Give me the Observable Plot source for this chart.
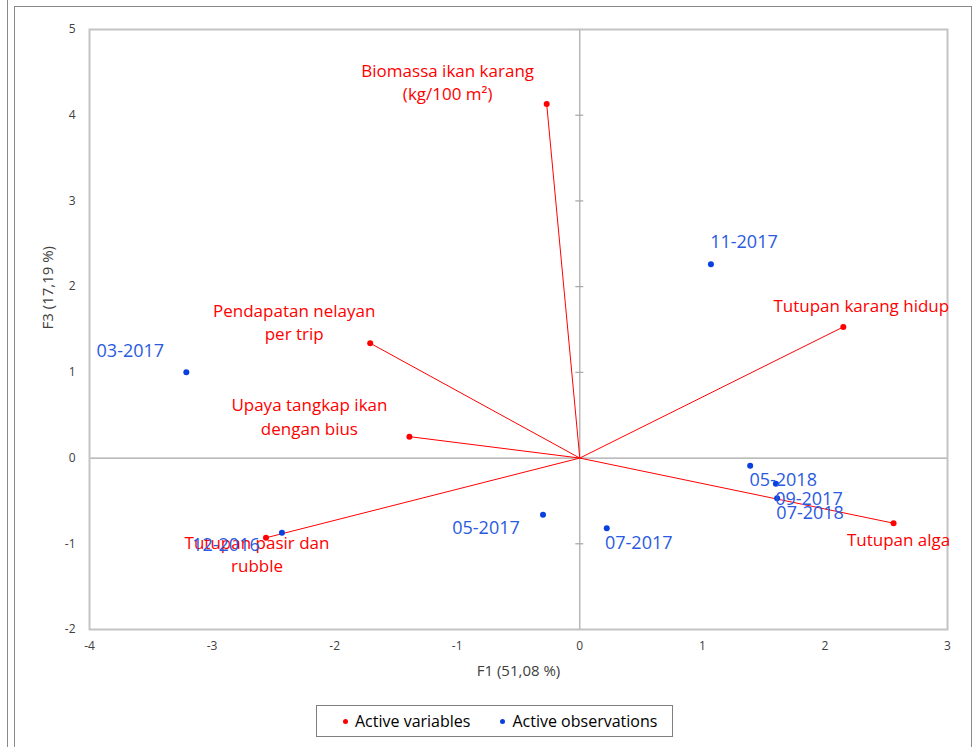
<!DOCTYPE html>
<html>
<head>
<meta charset="utf-8">
<script src="https://cdn.jsdelivr.net/npm/d3@7"></script>
<script src="https://cdn.jsdelivr.net/npm/@observablehq/plot@0.6"></script>
<style>
  html, body { margin: 0; padding: 0; background: #fff; }
  #wrap { position: relative; width: 974px; height: 747px; overflow: hidden; font-family: "Open Sans", Lato, sans-serif; }
  #chart { position: absolute; left: 0; top: 0; }
  .vline { position: absolute; top: 0; width: 0; height: 747px; border-left: 1px solid #8a8a8a; }
  #box { position: absolute; left: 14px; top: 6px; width: 958px; height: 760px; border: 1px solid #8a8a8a; box-sizing: border-box; }
  #legend { position: absolute; left: 316px; top: 705px; width: 357px; height: 32px; border: 1px solid #7f7f7f; box-sizing: border-box;
            display: flex; align-items: center; justify-content: flex-start; padding-left: 26px; gap: 30px; font-size: 16px; color: #000; }
  #legend span.item { display: flex; align-items: center; gap: 7px; white-space: nowrap; }
  #legend i { display: inline-block; width: 5px; height: 5px; border-radius: 50%; }
</style>
</head>
<body>
<div id="wrap">
  <div class="vline" style="left:7px"></div>
  <div id="box"></div>
  <div id="chart"></div>
  <div id="legend"></div>
</div>
<script>
// ---- data ----
const variableNames = ["Biomassa ikan karang\n(kg/100 m²)", "Tutupan karang hidup", "Pendapatan nelayan\nper trip", "Upaya tangkap ikan\ndengan bius", "Tutupan pasir dan\nrubble", "Tutupan alga"];
const variableF1 = [-0.27, 2.15, -1.71, -1.39, -2.56, 2.56];
const variableF3 = [4.13, 1.53, 1.34, 0.25, -0.93, -0.76];

const observationNames = ["11-2017", "03-2017", "05-2018", "09-2017", "07-2018", "05-2017", "07-2017", "12-2016"];
const observationF1 = [1.07, -3.21, 1.39, 1.60, 1.61, -0.30, 0.22, -2.43];
const observationF3 = [2.26, 1.00, -0.09, -0.30, -0.47, -0.66, -0.82, -0.87];

const xTicks = [-4, -3, -2, -1, 0, 1, 2, 3];
const yTicks = [-2, -1, 0, 1, 2, 3, 4, 5];
const xTitle = "F1 (51,08 %)";
const yTitle = "F3 (17,19 %)";
const legendLabels = ["Active variables", "Active observations"];

// ---- layout (label offsets in pixels) ----
const varOffsets = [[-99, -23], [18, -22], [-76, -22], [-100, -21], [-9, 15], [5, 15]];
const obsOffsets = [[33, -22], [-56, -21], [33, 14], [33, 15], [33, 15], [-57, 14], [32, 15], [-56, 13]];

const RED = "#ff0000";
const BLUE_DOT = "#0a3fe0";
const BLUE_TXT = "#2a5ae0";
const FONT = "'Open Sans', Lato, sans-serif";

const variables = variableNames.map((name, i) => ({name, x: variableF1[i], y: variableF3[i]}));
const observations = observationNames.map((name, i) => ({name, x: observationF1[i], y: observationF3[i]}));

const labelMarks = [];
variables.forEach((d, i) => {
  labelMarks.push(Plot.text([d], {x: "x", y: "y", text: "name", dx: varOffsets[i][0], dy: varOffsets[i][1],
    fill: RED, fontSize: 17, lineHeight: 1.38, textAnchor: "middle", lineAnchor: "middle", fontFamily: FONT}));
});
observations.forEach((d, i) => {
  labelMarks.push(Plot.text([d], {x: "x", y: "y", text: "name", dx: obsOffsets[i][0], dy: obsOffsets[i][1],
    fill: BLUE_TXT, fontSize: 18, textAnchor: "middle", lineAnchor: "middle", fontFamily: FONT}));
});

const fmt = d => String(d);

const chart = Plot.plot({
  width: 974,
  height: 700,
  marginLeft: 89,
  marginRight: 27,
  marginTop: 29,
  marginBottom: 71,
  style: {fontFamily: FONT, background: "transparent"},
  x: {domain: [-4, 3]},
  y: {domain: [-2, 5]},
  marks: [
    Plot.ruleX([0], {stroke: "#a6a6a6", strokeWidth: 1.2}),
    Plot.ruleY([0], {stroke: "#a6a6a6", strokeWidth: 1.2}),
    Plot.ruleY(yTicks, {y: d => d, x1: 0, x2: 0, insetLeft: -4, insetRight: -4, stroke: "#a6a6a6", strokeWidth: 1.2}),
    Plot.frame({stroke: "#c4c4c4", strokeWidth: 2}),
    Plot.axisX({ticks: xTicks, tickFormat: fmt, tickSize: 0, tickPadding: 12, label: null, fontSize: 12, fill: "#404040"}),
    Plot.axisY({ticks: yTicks, tickFormat: fmt, tickSize: 0, tickPadding: 14, label: null, fontSize: 12, fill: "#404040"}),
    Plot.text([xTitle], {frameAnchor: "bottom", dy: 42, fontSize: 15, fill: "#404040", lineAnchor: "middle"}),
    Plot.text([yTitle], {frameAnchor: "left", dx: -41, rotate: -90, fontSize: 15, fill: "#404040", lineAnchor: "middle"}),
    Plot.link(variables, {x1: 0, y1: 0, x2: "x", y2: "y", stroke: RED, strokeWidth: 1}),
    Plot.dot(variables, {x: "x", y: "y", r: 3, fill: RED}),
    Plot.dot(observations, {x: "x", y: "y", r: 3, fill: BLUE_DOT}),
    ...labelMarks
  ]
});
document.getElementById("chart").appendChild(chart);

const legend = document.getElementById("legend");
[[legendLabels[0], RED], [legendLabels[1], BLUE_DOT]].forEach(([label, color]) => {
  const s = document.createElement("span");
  s.className = "item";
  const dot = document.createElement("i");
  dot.style.background = color;
  s.appendChild(dot);
  s.appendChild(document.createTextNode(label));
  legend.appendChild(s);
});
</script>
</body>
</html>
